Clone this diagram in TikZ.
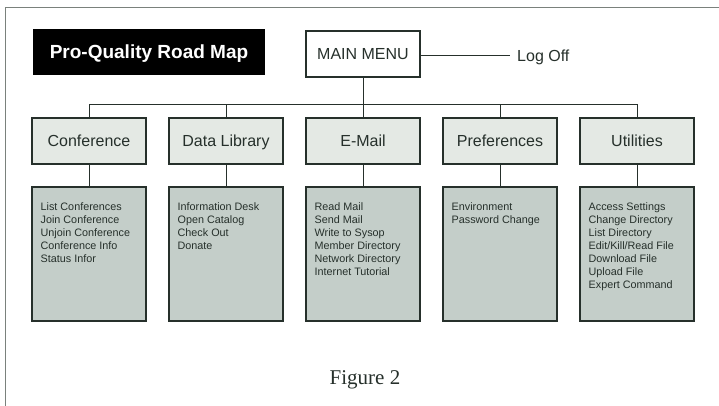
\documentclass[tikz,border=0pt]{standalone}
\usepackage{fontspec}
\setmainfont{Liberation Sans}
\newfontfamily\figserif{Liberation Serif}
\definecolor{ink}{HTML}{26302B}
\definecolor{catfill}{HTML}{E4E9E4}
\definecolor{subfill}{HTML}{C4CEC9}
\definecolor{framecol}{HTML}{7A817C}
\tikzset{
  catbox/.style={draw=ink, line width=1.1pt, fill=catfill, minimum width=114pt, minimum height=46pt, inner sep=0pt, text height=11.5pt, text depth=0pt, font=\fontsize{16}{18}\selectfont, text=ink},
  subbox/.style={draw=ink, line width=1.1pt, fill=subfill, minimum width=114pt, minimum height=134pt, inner sep=0pt},
  subtext/.style={anchor=north west, inner sep=0pt, align=left, font=\fontsize{10.8}{13}\selectfont, text=ink},
  conn/.style={draw=ink, line width=1pt},
}
\begin{document}
\begin{tikzpicture}[x=1pt,y=-1pt]
\useasboundingbox (0,0) rectangle (719,406);
\fill[white] (0,0) rectangle (719,406);
% frame
\draw[framecol, line width=1.3pt] (5.5,406) -- (5.5,7.5) -- (719,7.5);
% title
\node[fill=black, minimum width=232pt, minimum height=46pt, inner sep=0pt, text height=13.6pt, text depth=0pt, text=white, font=\fontsize{19}{22}\selectfont\bfseries] (title) at (149,52) {Pro-Quality Road Map};
% main menu
\node[draw=ink, line width=1.1pt, fill=white, minimum width=114pt, minimum height=46pt, inner sep=0pt, text height=11.5pt, text depth=0pt, font=\fontsize{16}{18}\selectfont, text=ink] (main) at (363,54) {MAIN MENU};
\coordinate (logend) at (510,56);
\node[anchor=west, inner sep=0pt, text height=11.5pt, text depth=0pt, font=\fontsize{16}{18}\selectfont, text=ink] (logoff) at (517,55.5) {Log Off};
\draw[conn] (main.east |- logend) -- (logend);
% categories
\node[catbox] (conf) at (89,141) {Conference};
\node[catbox] (dlib) at (226,141) {Data Library};
\node[catbox] (mail) at (363,141) {E-Mail};
\node[catbox] (pref) at (500,141) {Preferences};
\node[catbox] (util) at (637,141) {Utilities};
\coordinate (bus) at (363,105);
\draw[conn] (main.south) -- (bus);
\draw[conn] (conf.north) -- (conf.north |- bus) -- (util.north |- bus) -- (util.north);
\draw[conn] (dlib.north) -- (dlib.north |- bus);
\draw[conn] (mail.north) -- (mail.north |- bus);
\draw[conn] (pref.north) -- (pref.north |- bus);
% sub boxes
\node[subbox] (sconf) at (89,254) {};
\node[subbox] (sdlib) at (226,254) {};
\node[subbox] (smail) at (363,254) {};
\node[subbox] (spref) at (500,254) {};
\node[subbox] (sutil) at (637,254) {};
\foreach \a/\b in {conf/sconf,dlib/sdlib,mail/smail,pref/spref,util/sutil}
  \draw[conn] (\a.south) -- (\b.north);
\node[subtext] (tconf) at ([shift={(9,16.5)}]sconf.north west) {List Conferences\\Join Conference\\Unjoin Conference\\Conference Info\\Status Infor};
\node[subtext] (tdlib) at ([shift={(9,16.5)}]sdlib.north west) {Information Desk\\Open Catalog\\Check Out\\Donate};
\node[subtext] (tmail) at ([shift={(9,16.5)}]smail.north west) {Read Mail\\Send Mail\\Write to Sysop\\Member Directory\\Network Directory\\Internet Tutorial};
\node[subtext] (tpref) at ([shift={(9,16.5)}]spref.north west) {Environment\\Password Change};
\node[subtext] (tutil) at ([shift={(9,16.5)}]sutil.north west) {Access Settings\\Change Directory\\List Directory\\Edit/Kill/Read File\\Download File\\Upload File\\Expert Command};
% caption
\node[anchor=base, inner sep=0pt, font=\figserif\fontsize{21}{24}\selectfont, text=ink] (cap) at (365,384) {Figure 2};
\end{tikzpicture}
\end{document}
